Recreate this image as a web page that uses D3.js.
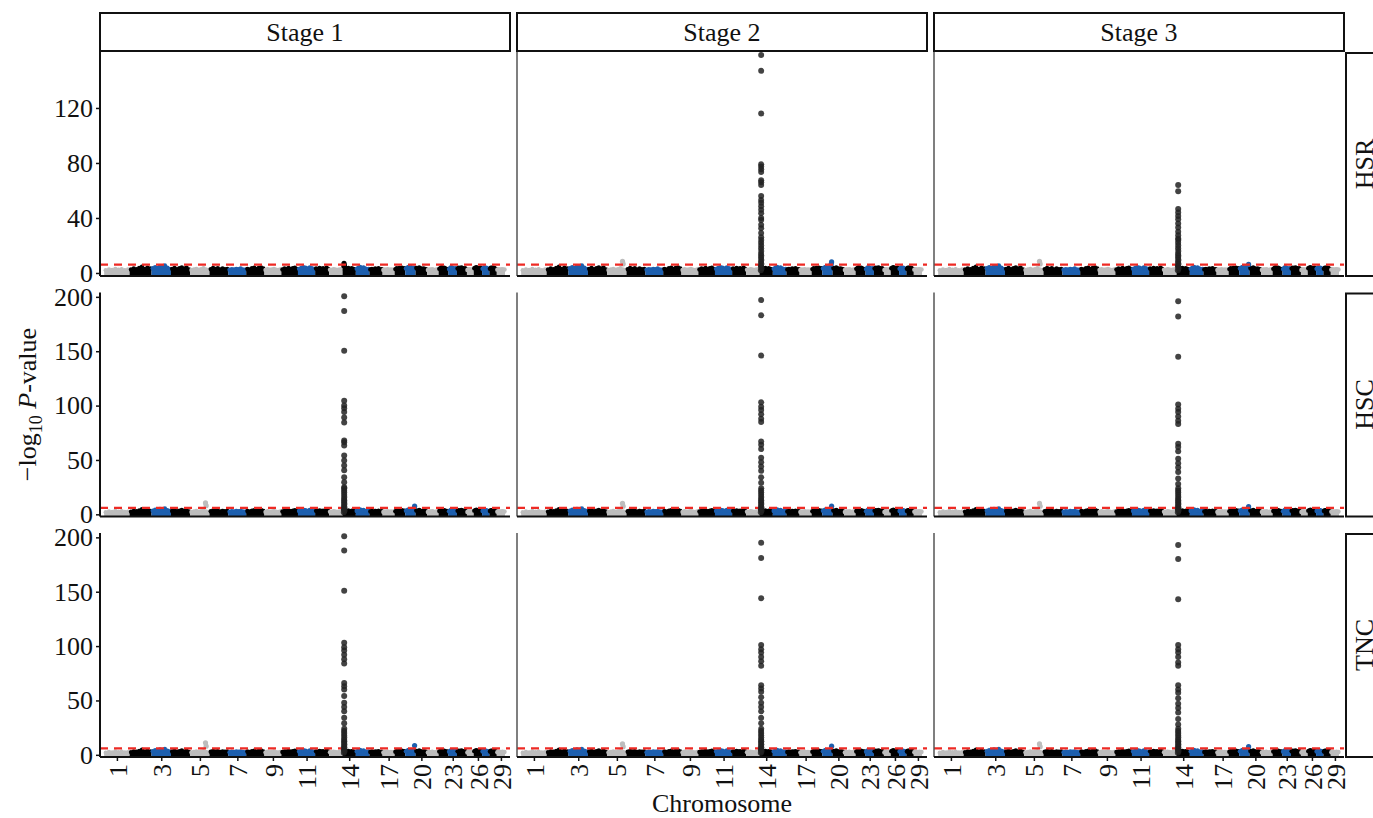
<!DOCTYPE html>
<html lang="en">
  <head>
    <meta charset="utf-8">
    <script type="text/javascript" src="https://d3js.org/d3.v7.min.js"></script>
    <style>
      body { margin: 0; background: white; }
      text { font-family: "Liberation Serif", "Times New Roman", serif; fill: #111; }
    </style>
  </head>
  <body>
    <script type="text/javascript">

    // Data
    var stages = ["Stage 1", "Stage 2", "Stage 3"];
    var traits = ["HSR", "HSC", "TNC"];

    // chromosome lengths (Mb), chromosomes 1..29
    var chromLengths = [158.5, 136.2, 121.0, 120.0, 120.1, 117.8, 110.7, 113.3, 105.5, 103.3,
                        107.0, 87.2, 83.5, 82.4, 85.0, 81.7, 75.2, 66.0, 64.1, 72.0,
                        71.6, 61.4, 52.5, 62.3, 42.4, 52.0, 45.6, 45.9, 51.1];
    var chromTicks = [1, 3, 5, 7, 9, 11, 14, 17, 20, 23, 26, 29];
    var chromColors = ["#bdbdbd", "#000000", "#1d5fae", "#000000"];

    // upper envelope of the dense SNP cloud along each chromosome (-log10 P)
    var backgroundLevels = [
      [2.0, 2.6, 2.2, 3.0, 2.4, 2.8, 2.1, 2.5],
      [2.5, 3.2, 2.8, 3.6, 4.6, 3.0, 3.8, 3.2],
      [3.4, 4.2, 3.6, 5.0, 4.4, 5.4, 3.8, 3.0],
      [3.0, 3.6, 2.8, 3.4, 4.0, 3.2, 3.8, 2.6],
      [2.2, 2.6, 3.0, 2.4, 2.8, 3.4, 2.6, 2.2],
      [2.8, 3.6, 3.0, 3.4, 2.6, 3.2, 2.8, 3.0],
      [2.4, 2.8, 2.6, 3.0, 2.8, 3.2, 2.6, 2.4],
      [3.0, 2.6, 3.4, 3.8, 3.0, 3.6, 4.0, 3.2],
      [2.2, 2.8, 2.4, 2.6, 3.0, 2.4, 2.2, 2.6],
      [2.6, 3.2, 3.0, 3.6, 2.8, 3.4, 3.8, 3.0],
      [3.0, 3.6, 4.2, 3.8, 3.2, 4.0, 3.4, 2.8],
      [3.2, 2.8, 3.6, 3.0, 3.4, 2.6, 3.8, 3.0],
      [2.4, 2.2, 2.8, 2.6, 2.2, 2.4, 2.6, 2.8],
      [5.0, 4.0, 3.2, 3.6, 2.8, 3.4, 3.0, 2.6],
      [3.0, 3.8, 4.4, 3.6, 4.0, 3.2, 2.8, 3.0],
      [2.6, 3.0, 2.4, 3.2, 2.8, 3.4, 2.6, 2.8],
      [2.2, 2.6, 2.4, 2.8, 2.2, 2.6, 2.4, 2.0],
      [2.8, 3.4, 3.0, 3.6, 3.2, 3.8, 3.0, 3.4],
      [3.2, 3.8, 4.4, 3.6, 4.2, 3.4, 3.8, 3.0],
      [3.6, 3.0, 4.0, 3.4, 2.8, 3.2, 3.0, 2.6],
      [2.2, 2.6, 2.4, 2.8, 2.4, 2.2, 2.6, 2.4],
      [3.0, 3.6, 4.2, 3.4, 3.8, 3.2, 3.0, 2.8],
      [2.8, 3.6, 4.2, 3.8, 3.2, 3.0, 3.4, 2.8],
      [3.2, 3.8, 3.4, 4.0, 3.6, 3.0, 3.4, 2.8],
      [2.2, 2.6, 2.8, 2.4, 2.2, 2.6, 2.4, 2.2],
      [3.4, 3.8, 4.2, 3.6, 3.0, 3.4, 3.8, 3.0],
      [3.0, 3.6, 4.0, 3.4, 3.8, 3.0, 3.2, 2.8],
      [3.0, 3.8, 3.4, 4.0, 3.2, 3.6, 3.0, 2.8],
      [2.4, 2.8, 2.2, 2.6, 2.4, 2.8, 2.2, 2.6]
    ];

    // smaller local signals: [chromosome, position Mb, -log10 P], by trait then stage
    var localSignals = [
      [[[14, 9, 7.0], [14, 11, 5.6]],
       [[5, 95, 8.5], [5, 99, 6.6], [19, 58, 8.0], [19, 55, 6.4]],
       [[5, 95, 8.5], [5, 99, 6.6], [19, 58, 6.2]]],
      [[[5, 95, 10.5], [5, 99, 8.0], [19, 58, 7.5]],
       [[5, 95, 10.0], [5, 99, 7.5], [19, 58, 7.5]],
       [[5, 95, 10.0], [5, 99, 7.5], [19, 58, 7.0]]],
      [[[5, 95, 11.0], [5, 99, 8.0], [19, 58, 8.5]],
       [[5, 95, 10.0], [5, 99, 7.5], [19, 58, 8.0]],
       [[5, 95, 10.0], [5, 99, 7.5], [19, 58, 7.5]]]
    ];

    // chromosome 14 peak (position ~10 Mb), by trait then stage
    var peakPosition = 10;
    var peakValues = [
      [[],
       [158.5, 147, 116, 79, 77.5, 75.5, 73.5, 67.5, 66, 64, 56, 53, 51, 48.5, 46, 43.5, 40, 38.5, 35, 32.5, 29, 26],
       [64, 59.5, 46.5, 44, 41.5, 39, 36, 33, 30, 27.5, 25]],
      [[200.5, 187, 150.5, 104.5, 100, 97.5, 94, 89, 84.5, 68, 66.3, 63.3, 54, 49.5, 45, 40.5, 34, 29.5, 25],
       [197, 183, 146, 103, 99, 96, 92, 88, 85, 67, 64, 60, 52, 48, 44, 40, 34, 29],
       [196, 182, 145, 101, 97, 94, 90, 86, 83, 65, 62, 58, 51, 47, 43, 39, 33, 28]],
      [[201, 188, 151, 103, 99, 96, 92, 88, 84, 66, 63, 60, 54, 48, 44, 40, 34, 29],
       [195, 181, 144, 101, 97, 94, 90, 86, 82, 64, 61, 58, 53, 48, 44, 40, 34, 29],
       [193, 180, 143, 101, 97, 94, 90, 85, 82, 64, 60, 57, 52, 47, 43, 39, 33, 28]]
    ];
    // lower, continuous part of the peak column
    var peakTail = [24, 22, 20, 18, 16, 14, 12.5, 11, 9.5, 8, 6.5, 5, 3.5, 2];
    var peakTailPos = [10.4, 9.6, 10.2, 9.8, 10.6, 9.4, 10.8, 9.2, 11.2, 8.8, 11.6, 8.4, 12.2, 7.8];

    var threshold = 6;
    var yDomains = [[-2.2, 160.7], [-2, 204], [-2, 204]];
    var yTicks = [[0, 40, 80, 120], [0, 50, 100, 150, 200], [0, 50, 100, 150, 200]];

    // Layout
    var svgW = 1373, svgH = 818;
    var panelW = 410, panelH = 224;
    var colX = [100, 517, 934];
    var rowY = [52, 292.5, 533];
    var stripTop = 13;
    var stripRightX = 1346;
    var fontSize = "26px";

    var svg = d3.select("body").append("svg")
                .attr("width", svgW)
                .attr("height", svgH);

    // cumulative chromosome starts
    var chromStart = [];
    var total = 0;
    chromLengths.forEach(function(l) { chromStart.push(total); total += l; });

    function genomePos(chr, pos) { return chromStart[chr - 1] + pos; }

    var xScale = d3.scaleLinear().domain([-26, total + 31]).range([0, panelW]);

    // Column strips
    stages.forEach(function(s, j) {
      svg.append("rect")
         .attr("x", colX[j]).attr("y", stripTop)
         .attr("width", panelW).attr("height", rowY[0] - stripTop - 1)
         .attr("fill", "white").attr("stroke", "#111").attr("stroke-width", 2);
      svg.append("text")
         .attr("x", colX[j] + panelW / 2).attr("y", 41)
         .attr("text-anchor", "middle")
         .style("font-size", fontSize)
         .text(s);
    });

    // Row strips
    traits.forEach(function(t, i) {
      svg.append("rect")
         .attr("x", stripRightX).attr("y", rowY[i] + 1)
         .attr("width", 60).attr("height", panelH - 1)
         .attr("fill", "white").attr("stroke", "#111").attr("stroke-width", 2);
      svg.append("text")
         .attr("transform", "translate(1373," + (rowY[i] + panelH / 2) + ") rotate(-90)")
         .attr("text-anchor", "middle")
         .style("font-size", fontSize)
         .text(t);
    });

    var area = d3.area().curve(d3.curveStep);

    traits.forEach(function(t, i) {
      var yScale = d3.scaleLinear().domain(yDomains[i]).range([panelH, 0]);

      stages.forEach(function(s, j) {
        var g = svg.append("g")
                   .attr("transform", "translate(" + colX[j] + "," + rowY[i] + ")");

        // dense background cloud per chromosome
        backgroundLevels.forEach(function(levels, c) {
          var color = chromColors[c % 4];
          var n = levels.length;
          var pts = levels.map(function(v, k) {
            return { gp: chromStart[c] + (k + 0.5) * chromLengths[c] / n, v: v };
          });
          var edge = [{ gp: chromStart[c], v: levels[0] }].concat(pts)
                      .concat([{ gp: chromStart[c] + chromLengths[c], v: levels[n - 1] }]);
          g.append("path")
           .datum(edge)
           .attr("d", area.x(function(d) { return xScale(d.gp); })
                          .y0(panelH)
                          .y1(function(d) { return yScale(d.v); }))
           .attr("fill", color);
          g.selectAll(null)
           .data(pts)
           .enter().append("circle")
             .attr("cx", function(d) { return xScale(d.gp); })
             .attr("cy", function(d) { return yScale(d.v); })
             .attr("r", 2.2)
             .attr("fill", color);
        });

        // smaller local signals
        g.selectAll(null)
         .data(localSignals[i][j])
         .enter().append("circle")
           .attr("cx", function(d) { return xScale(genomePos(d[0], d[1])); })
           .attr("cy", function(d) { return yScale(d[2]); })
           .attr("r", 2.6)
           .attr("fill", function(d) { return chromColors[(d[0] - 1) % 4]; });

        // significance threshold
        g.append("line")
         .attr("x1", 0).attr("x2", panelW)
         .attr("y1", yScale(threshold)).attr("y2", yScale(threshold))
         .attr("stroke", "#ee2a24").attr("stroke-width", 2.2)
         .attr("stroke-dasharray", "8,6");

        // chromosome 14 peak
        var peak = peakValues[i][j].map(function(v) { return { p: peakPosition, v: v }; });
        if (peak.length) {
          peak = peak.concat(peakTail.map(function(v, k) { return { p: peakTailPos[k], v: v }; }));
        }
        g.selectAll(null)
         .data(peak)
         .enter().append("circle")
           .attr("cx", function(d) { return xScale(genomePos(14, d.p)); })
           .attr("cy", function(d) { return yScale(d.v); })
           .attr("r", 3)
           .attr("fill", "#222")
           .attr("fill-opacity", 0.85);

        // axis lines
        g.append("line")
         .attr("x1", 0).attr("x2", 0).attr("y1", 0).attr("y2", panelH)
         .attr("stroke", j === 0 ? "#111" : "#555")
         .attr("stroke-width", j === 0 ? 2 : 1.5);
        g.append("line")
         .attr("x1", 0).attr("x2", panelW).attr("y1", panelH).attr("y2", panelH)
         .attr("stroke", "#111").attr("stroke-width", 2);

        // y axis on first column
        if (j === 0) {
          var yAxis = g.append("g")
                       .call(d3.axisLeft(yScale).tickValues(yTicks[i]).tickSize(4).tickPadding(3));
          yAxis.select(".domain").remove();
          yAxis.selectAll(".tick line").attr("stroke", "#111").attr("stroke-width", 1.5);
          yAxis.selectAll(".tick text")
               .style("font-family", "Liberation Serif, serif")
               .style("font-size", fontSize)
               .attr("fill", "#111");
        }

        // x axis on bottom row
        if (i === traits.length - 1) {
          var xAxis = g.append("g")
                       .attr("transform", "translate(0," + panelH + ")")
                       .call(d3.axisBottom(xScale)
                               .tickValues(chromTicks.map(function(c) { return chromStart[c - 1] + chromLengths[c - 1] / 2; }))
                               .tickFormat(function(d, k) { return chromTicks[k]; })
                               .tickSize(4));
          xAxis.select(".domain").remove();
          xAxis.selectAll(".tick line").attr("stroke", "#111").attr("stroke-width", 1.5);
          xAxis.selectAll(".tick text")
               .style("font-family", "Liberation Serif, serif")
               .style("font-size", fontSize)
               .attr("fill", "#111")
               .attr("text-anchor", "end")
               .attr("transform", "rotate(-90)")
               .attr("x", -7)
               .attr("y", 0)
               .attr("dy", "0.35em");
        }
      });
    });

    // Axis titles
    svg.append("text")
       .attr("x", colX[1] + panelW / 2).attr("y", 812)
       .attr("text-anchor", "middle")
       .style("font-size", fontSize)
       .text("Chromosome");

    var yTitle = svg.append("text")
                    .attr("transform", "translate(36," + ((rowY[0] + rowY[2] + panelH) / 2) + ") rotate(-90)")
                    .attr("text-anchor", "middle")
                    .style("font-size", fontSize);
    yTitle.append("tspan").text("\u2212log");
    yTitle.append("tspan").attr("dy", 6).style("font-size", "18px").text("10");
    yTitle.append("tspan").attr("dy", -6).text(" ");
    yTitle.append("tspan").style("font-style", "italic").text("P");
    yTitle.append("tspan").text("-value");

    </script>
  </body>
</html>
